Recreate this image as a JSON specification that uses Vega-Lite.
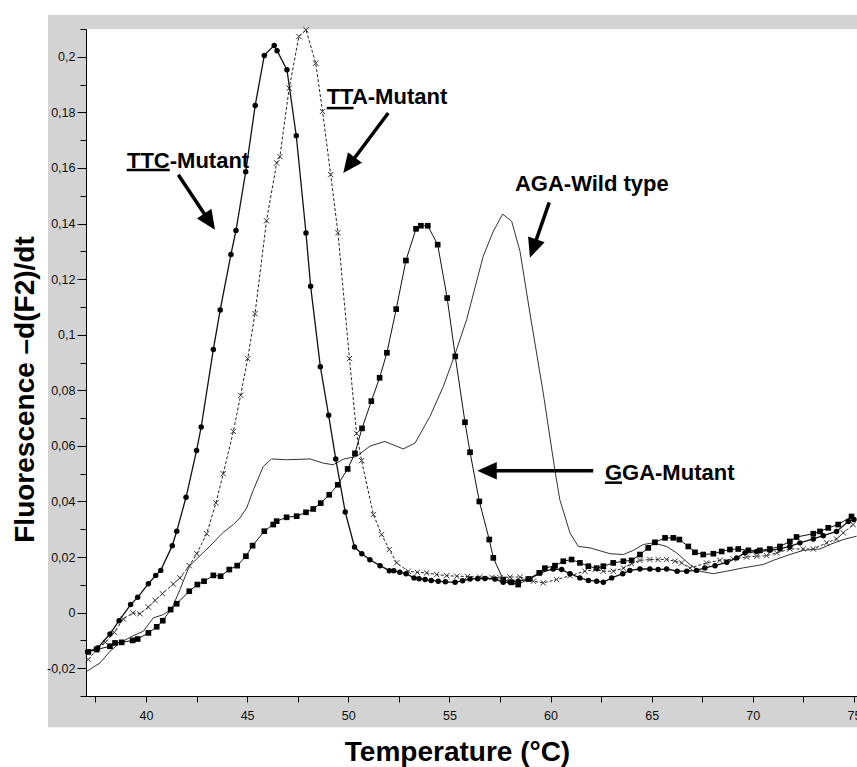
{
  "$schema": "https://vega.github.io/schema/vega-lite/v6.json",
  "width": 771,
  "height": 667,
  "autosize": {"type": "none"},
  "padding": {"left": 86, "top": 29, "right": 0, "bottom": 71},
  "background": "white",
  "config": {
    "view": {"stroke": null},
    "locale": {"number": {"decimal": ",", "thousands": ".", "grouping": [3], "currency": ["", " €"], "minus": "-"}}
  },
  "datasets": {
    "ttc": [
      {"t": 37.12, "v": -0.0141}, {"t": 37.61, "v": -0.0127}, {"t": 38.22, "v": -0.0077}, {"t": 38.67, "v": -0.0029},
      {"t": 39.24, "v": 0.0029}, {"t": 39.59, "v": 0.0055}, {"t": 40.12, "v": 0.0104}, {"t": 40.48, "v": 0.0134},
      {"t": 40.73, "v": 0.0152}, {"t": 41.30, "v": 0.0241}, {"t": 41.52, "v": 0.0293}, {"t": 41.98, "v": 0.0415},
      {"t": 42.50, "v": 0.0583}, {"t": 42.73, "v": 0.0668}, {"t": 43.33, "v": 0.0947}, {"t": 43.67, "v": 0.1089},
      {"t": 44.20, "v": 0.1289}, {"t": 44.45, "v": 0.1375}, {"t": 44.93, "v": 0.1586}, {"t": 45.40, "v": 0.1825},
      {"t": 45.85, "v": 0.2005}, {"t": 46.34, "v": 0.2041}, {"t": 46.48, "v": 0.2022}, {"t": 46.97, "v": 0.1953},
      {"t": 47.43, "v": 0.1716}, {"t": 47.91, "v": 0.1366}, {"t": 48.14, "v": 0.1174}, {"t": 48.62, "v": 0.0885},
      {"t": 49.03, "v": 0.0710}, {"t": 49.38, "v": 0.0553}, {"t": 49.85, "v": 0.0362}, {"t": 50.31, "v": 0.0236},
      {"t": 50.67, "v": 0.0212}, {"t": 51.07, "v": 0.0190}, {"t": 51.57, "v": 0.0169}, {"t": 52.03, "v": 0.0151},
      {"t": 52.25, "v": 0.0151}, {"t": 52.55, "v": 0.0145}, {"t": 52.86, "v": 0.0140}, {"t": 53.25, "v": 0.0125},
      {"t": 53.50, "v": 0.0122}, {"t": 53.80, "v": 0.0119}, {"t": 54.10, "v": 0.0116}, {"t": 54.45, "v": 0.0113},
      {"t": 54.80, "v": 0.0111}, {"t": 55.28, "v": 0.0109}, {"t": 55.65, "v": 0.0115}, {"t": 56.02, "v": 0.0121},
      {"t": 56.40, "v": 0.0122}, {"t": 56.76, "v": 0.0123}, {"t": 57.25, "v": 0.0121}, {"t": 57.66, "v": 0.0109},
      {"t": 58.00, "v": 0.0110}, {"t": 58.40, "v": 0.0113}, {"t": 58.98, "v": 0.0121}, {"t": 59.48, "v": 0.0143},
      {"t": 60.13, "v": 0.0157}, {"t": 60.55, "v": 0.0155}, {"t": 60.96, "v": 0.0140}, {"t": 61.45, "v": 0.0125},
      {"t": 61.87, "v": 0.0116}, {"t": 62.28, "v": 0.0113}, {"t": 62.61, "v": 0.0109}, {"t": 63.02, "v": 0.0125},
      {"t": 63.57, "v": 0.0140}, {"t": 63.92, "v": 0.0152}, {"t": 64.42, "v": 0.0157}, {"t": 64.91, "v": 0.0157},
      {"t": 65.32, "v": 0.0155}, {"t": 65.74, "v": 0.0157}, {"t": 66.26, "v": 0.0149}, {"t": 66.73, "v": 0.0149},
      {"t": 67.22, "v": 0.0152}, {"t": 67.63, "v": 0.0161}, {"t": 68.13, "v": 0.0169}, {"t": 68.71, "v": 0.0181},
      {"t": 69.20, "v": 0.0197}, {"t": 69.61, "v": 0.0215}, {"t": 70.19, "v": 0.0220}, {"t": 70.84, "v": 0.0224},
      {"t": 71.34, "v": 0.0229}, {"t": 71.83, "v": 0.0238}, {"t": 72.33, "v": 0.0251}, {"t": 72.99, "v": 0.0265},
      {"t": 73.48, "v": 0.0277}, {"t": 74.14, "v": 0.0292}, {"t": 74.72, "v": 0.0328}, {"t": 75.00, "v": 0.0335}
    ],
    "tta": [
      {"t": 37.15, "v": -0.0169}, {"t": 37.60, "v": -0.0130}, {"t": 37.99, "v": -0.0107}, {"t": 38.43, "v": -0.0071},
      {"t": 38.88, "v": -0.0023}, {"t": 39.35, "v": -0.0001}, {"t": 39.70, "v": -0.0004}, {"t": 40.12, "v": 0.0020},
      {"t": 40.45, "v": 0.0044}, {"t": 40.81, "v": 0.0068}, {"t": 41.35, "v": 0.0103}, {"t": 41.68, "v": 0.0125},
      {"t": 42.14, "v": 0.0169}, {"t": 42.51, "v": 0.0212}, {"t": 43.00, "v": 0.0284}, {"t": 43.46, "v": 0.0395},
      {"t": 43.82, "v": 0.0500}, {"t": 44.32, "v": 0.0652}, {"t": 44.68, "v": 0.0782}, {"t": 45.03, "v": 0.0914},
      {"t": 45.39, "v": 0.1076}, {"t": 45.96, "v": 0.1410}, {"t": 46.46, "v": 0.1618}, {"t": 46.62, "v": 0.1641},
      {"t": 47.08, "v": 0.1887}, {"t": 47.56, "v": 0.2073}, {"t": 47.91, "v": 0.2097}, {"t": 48.39, "v": 0.1977},
      {"t": 48.73, "v": 0.1803}, {"t": 49.13, "v": 0.1576}, {"t": 49.49, "v": 0.1367}, {"t": 50.06, "v": 0.0914},
      {"t": 50.41, "v": 0.0645}, {"t": 50.66, "v": 0.0547}, {"t": 51.24, "v": 0.0353}, {"t": 51.65, "v": 0.0281},
      {"t": 52.03, "v": 0.0227}, {"t": 52.39, "v": 0.0179}, {"t": 52.97, "v": 0.0149}, {"t": 53.41, "v": 0.0145},
      {"t": 53.87, "v": 0.0143}, {"t": 54.37, "v": 0.0137}, {"t": 54.86, "v": 0.0133}, {"t": 55.36, "v": 0.0131},
      {"t": 55.90, "v": 0.0130}, {"t": 56.50, "v": 0.0128}, {"t": 57.10, "v": 0.0127}, {"t": 57.50, "v": 0.0126},
      {"t": 58.00, "v": 0.0128}, {"t": 58.50, "v": 0.0128}, {"t": 59.15, "v": 0.0113}, {"t": 59.64, "v": 0.0107},
      {"t": 60.30, "v": 0.0119}, {"t": 60.96, "v": 0.0133}, {"t": 61.70, "v": 0.0149}, {"t": 62.20, "v": 0.0155},
      {"t": 62.60, "v": 0.0149}, {"t": 63.10, "v": 0.0149}, {"t": 63.60, "v": 0.0160}, {"t": 64.00, "v": 0.0176},
      {"t": 64.42, "v": 0.0188}, {"t": 64.91, "v": 0.0191}, {"t": 65.32, "v": 0.0191}, {"t": 65.74, "v": 0.0191},
      {"t": 66.15, "v": 0.0185}, {"t": 66.48, "v": 0.0179}, {"t": 66.89, "v": 0.0160}, {"t": 67.71, "v": 0.0179},
      {"t": 68.37, "v": 0.0188}, {"t": 69.03, "v": 0.0193}, {"t": 69.69, "v": 0.0200}, {"t": 70.19, "v": 0.0203},
      {"t": 70.68, "v": 0.0205}, {"t": 71.18, "v": 0.0215}, {"t": 71.83, "v": 0.0229}, {"t": 72.49, "v": 0.0229},
      {"t": 72.99, "v": 0.0229}, {"t": 73.65, "v": 0.0251}, {"t": 74.14, "v": 0.0265}, {"t": 74.47, "v": 0.0287},
      {"t": 74.96, "v": 0.0317}
    ],
    "gga": [
      {"t": 37.15, "v": -0.0141}, {"t": 37.56, "v": -0.0133}, {"t": 38.22, "v": -0.0121}, {"t": 38.47, "v": -0.0109},
      {"t": 38.80, "v": -0.0107}, {"t": 39.34, "v": -0.0100}, {"t": 39.59, "v": -0.0095}, {"t": 40.12, "v": -0.0073},
      {"t": 40.53, "v": -0.0051}, {"t": 40.83, "v": -0.0029}, {"t": 41.22, "v": 0.0011}, {"t": 41.52, "v": 0.0032},
      {"t": 42.14, "v": 0.0077}, {"t": 42.54, "v": 0.0101}, {"t": 42.87, "v": 0.0113}, {"t": 43.33, "v": 0.0134},
      {"t": 43.69, "v": 0.0131}, {"t": 44.12, "v": 0.0155}, {"t": 44.51, "v": 0.0169}, {"t": 44.94, "v": 0.0203},
      {"t": 45.27, "v": 0.0241}, {"t": 45.85, "v": 0.0293}, {"t": 46.29, "v": 0.0317}, {"t": 46.46, "v": 0.0329},
      {"t": 46.95, "v": 0.0343}, {"t": 47.45, "v": 0.0347}, {"t": 47.91, "v": 0.0361}, {"t": 48.27, "v": 0.0373},
      {"t": 48.64, "v": 0.0394}, {"t": 49.06, "v": 0.0424}, {"t": 49.48, "v": 0.0460}, {"t": 49.97, "v": 0.0517},
      {"t": 50.33, "v": 0.0573}, {"t": 50.68, "v": 0.0663}, {"t": 51.14, "v": 0.0761}, {"t": 51.55, "v": 0.0845},
      {"t": 51.91, "v": 0.0935}, {"t": 52.37, "v": 0.1092}, {"t": 52.85, "v": 0.1267}, {"t": 53.35, "v": 0.1381},
      {"t": 53.59, "v": 0.1392}, {"t": 53.93, "v": 0.1392}, {"t": 54.42, "v": 0.1324}, {"t": 54.89, "v": 0.1132},
      {"t": 55.29, "v": 0.0922}, {"t": 55.77, "v": 0.0685}, {"t": 56.02, "v": 0.0577}, {"t": 56.48, "v": 0.0400},
      {"t": 56.97, "v": 0.0263}, {"t": 57.17, "v": 0.0197}, {"t": 57.66, "v": 0.0119}, {"t": 58.08, "v": 0.0109},
      {"t": 58.40, "v": 0.0101}, {"t": 58.90, "v": 0.0121}, {"t": 59.44, "v": 0.0143}, {"t": 59.72, "v": 0.0160},
      {"t": 60.22, "v": 0.0169}, {"t": 60.63, "v": 0.0185}, {"t": 61.04, "v": 0.0191}, {"t": 61.45, "v": 0.0179},
      {"t": 61.87, "v": 0.0167}, {"t": 62.28, "v": 0.0160}, {"t": 62.61, "v": 0.0167}, {"t": 63.10, "v": 0.0179},
      {"t": 63.60, "v": 0.0185}, {"t": 64.01, "v": 0.0188}, {"t": 64.42, "v": 0.0209}, {"t": 64.83, "v": 0.0233},
      {"t": 65.16, "v": 0.0253}, {"t": 65.66, "v": 0.0269}, {"t": 66.07, "v": 0.0269}, {"t": 66.37, "v": 0.0263},
      {"t": 66.81, "v": 0.0238}, {"t": 67.14, "v": 0.0217}, {"t": 67.55, "v": 0.0209}, {"t": 68.05, "v": 0.0212},
      {"t": 68.46, "v": 0.0220}, {"t": 68.87, "v": 0.0227}, {"t": 69.28, "v": 0.0229}, {"t": 69.78, "v": 0.0224},
      {"t": 70.35, "v": 0.0224}, {"t": 70.84, "v": 0.0229}, {"t": 71.34, "v": 0.0238}, {"t": 71.83, "v": 0.0256},
      {"t": 72.16, "v": 0.0272}, {"t": 72.99, "v": 0.0284}, {"t": 73.32, "v": 0.0292}, {"t": 73.73, "v": 0.0305},
      {"t": 74.22, "v": 0.0317}, {"t": 74.88, "v": 0.0346}
    ],
    "aga": [
      {"t": 37.08, "v": -0.0211}, {"t": 37.73, "v": -0.0181}, {"t": 38.22, "v": -0.0139}, {"t": 38.71, "v": -0.0109},
      {"t": 39.37, "v": -0.0083}, {"t": 39.87, "v": -0.0067}, {"t": 40.36, "v": -0.0019}, {"t": 40.86, "v": -0.0007},
      {"t": 41.27, "v": 0.0013}, {"t": 41.68, "v": 0.0083}, {"t": 42.14, "v": 0.0167}, {"t": 42.67, "v": 0.0205},
      {"t": 43.16, "v": 0.0239}, {"t": 43.79, "v": 0.0287}, {"t": 44.32, "v": 0.0317}, {"t": 44.65, "v": 0.0341},
      {"t": 44.98, "v": 0.0377}, {"t": 45.31, "v": 0.0442}, {"t": 45.80, "v": 0.0526}, {"t": 46.21, "v": 0.0553},
      {"t": 46.95, "v": 0.0550}, {"t": 48.11, "v": 0.0553}, {"t": 48.76, "v": 0.0538}, {"t": 49.26, "v": 0.0532},
      {"t": 49.75, "v": 0.0552}, {"t": 50.41, "v": 0.0562}, {"t": 51.07, "v": 0.0599}, {"t": 51.81, "v": 0.0616},
      {"t": 52.72, "v": 0.0589}, {"t": 53.30, "v": 0.0610}, {"t": 54.04, "v": 0.0706}, {"t": 54.70, "v": 0.0814},
      {"t": 55.27, "v": 0.0928}, {"t": 55.85, "v": 0.1054}, {"t": 56.67, "v": 0.1282}, {"t": 57.17, "v": 0.1372},
      {"t": 57.63, "v": 0.1434}, {"t": 58.08, "v": 0.1408}, {"t": 58.49, "v": 0.1300}, {"t": 58.98, "v": 0.1078},
      {"t": 59.64, "v": 0.0790}, {"t": 60.22, "v": 0.0510}, {"t": 60.46, "v": 0.0406}, {"t": 60.96, "v": 0.0287},
      {"t": 61.37, "v": 0.0238}, {"t": 61.95, "v": 0.0233}, {"t": 62.94, "v": 0.0212}, {"t": 63.60, "v": 0.0209},
      {"t": 64.09, "v": 0.0224}, {"t": 64.58, "v": 0.0245}, {"t": 65.08, "v": 0.0251}, {"t": 65.74, "v": 0.0238},
      {"t": 66.23, "v": 0.0215}, {"t": 66.89, "v": 0.0173}, {"t": 67.38, "v": 0.0149}, {"t": 68.04, "v": 0.0140},
      {"t": 68.70, "v": 0.0149}, {"t": 69.52, "v": 0.0161}, {"t": 70.51, "v": 0.0173}, {"t": 71.01, "v": 0.0188},
      {"t": 71.83, "v": 0.0209}, {"t": 72.49, "v": 0.0224}, {"t": 73.32, "v": 0.0229}, {"t": 73.81, "v": 0.0245},
      {"t": 74.47, "v": 0.0263}, {"t": 75.13, "v": 0.0275}
    ]
  },
  "resolve": {"axis": {"y": "independent"}},
  "layer": [
    {
      "data": {"values": [{}]},
      "mark": {"type": "rect", "color": "#d3d3d3"},
      "encoding": {
        "x": {
          "datum": 35.157, "type": "quantitative",
          "scale": {"domain": [37.035, 75.15], "nice": false, "zero": false},
          "axis": {
            "title": "Temperature (°C)",
            "values": [37.5, 40, 42.5, 45, 47.5, 50, 52.5, 55, 57.5, 60, 62.5, 65, 67.5, 70, 72.5, 75],
            "labelExpr": "datum.value % 5 == 0 ? toString(datum.value) : ''",
            "grid": false, "zindex": 2,
            "domainColor": "#000", "domainWidth": 1,
            "tickColor": "#000", "tickSize": 6, "tickWidth": 1,
            "labelFont": "Liberation Sans", "labelFontSize": 12.5, "labelColor": "#111",
            "labelPadding": 7, "labelFlush": false, "labelOverlap": false,
            "titleFont": "Liberation Sans", "titleFontSize": 28, "titleFontWeight": "bold", "titleColor": "#000",
            "titleX": 371, "titleY": 64, "titleBaseline": "alphabetic", "titleAlign": "center"
          }
        },
        "x2": {"datum": 75.3},
        "y": {
          "datum": 0.215, "type": "quantitative",
          "scale": {"domain": [-0.03, 0.21], "nice": false, "zero": false},
          "axis": {
            "orient": "left",
            "title": "Fluorescence –d(F2)/dt",
            "values": [-0.02, 0, 0.02, 0.04, 0.06, 0.08, 0.1, 0.12, 0.14, 0.16, 0.18, 0.2],
            "format": ".2~f",
            "grid": false, "zindex": 2,
            "domainColor": "#000", "domainWidth": 1,
            "tickColor": "#000", "tickWidth": 1, "tickSize": 9,
            "labelFont": "Liberation Sans", "labelFontSize": 12.5, "labelColor": "#111",
            "labelPadding": 2, "labelFlush": false, "labelOverlap": false,
            "titleFont": "Liberation Sans", "titleFontSize": 28, "titleFontWeight": "bold", "titleColor": "#000",
            "titleAngle": 270, "titleX": -53, "titleY": 360, "titleBaseline": "alphabetic", "titleAlign": "center"
          }
        },
        "y2": {"datum": -0.0412}
      }
    },
    {
      "layer": [
        {
          "data": {"values": [{}]},
          "mark": {"type": "rect", "color": "white"},
          "encoding": {
            "x": {"datum": 37.035, "type": "quantitative"},
            "x2": {"datum": 75.3},
            "y": {
              "datum": 0.21, "type": "quantitative",
              "axis": {
                "orient": "left", "title": null, "labels": false, "domain": false, "grid": false, "zindex": 2,
                "values": [-0.03, -0.01, 0.01, 0.03, 0.05, 0.07, 0.09, 0.11, 0.13, 0.15, 0.17, 0.19, 0.21],
                "tickColor": "#000", "tickWidth": 1, "tickSize": 6
              }
            },
            "y2": {"datum": -0.03}
          }
        },
        {
          "data": {"name": "aga"},
          "mark": {"type": "line", "color": "#333", "strokeWidth": 1},
          "encoding": {"x": {"field": "t", "type": "quantitative"}, "y": {"field": "v", "type": "quantitative"}}
        },
        {
          "data": {"name": "gga"},
          "mark": {"type": "line", "color": "#111", "strokeWidth": 1},
          "encoding": {"x": {"field": "t", "type": "quantitative"}, "y": {"field": "v", "type": "quantitative"}}
        },
        {
          "data": {"name": "gga"},
          "mark": {"type": "point", "shape": "square", "filled": true, "size": 32, "color": "#000", "opacity": 1},
          "encoding": {"x": {"field": "t", "type": "quantitative"}, "y": {"field": "v", "type": "quantitative"}}
        },
        {
          "data": {"name": "tta"},
          "mark": {"type": "line", "color": "#222", "strokeWidth": 1, "strokeDash": [3, 2]},
          "encoding": {"x": {"field": "t", "type": "quantitative"}, "y": {"field": "v", "type": "quantitative"}}
        },
        {
          "data": {"name": "tta"},
          "mark": {"type": "point", "shape": "M-1,-1L1,1M-1,1L1,-1", "filled": false, "size": 28, "color": "#333", "strokeWidth": 1, "opacity": 1},
          "encoding": {"x": {"field": "t", "type": "quantitative"}, "y": {"field": "v", "type": "quantitative"}}
        },
        {
          "data": {"name": "ttc"},
          "mark": {"type": "line", "color": "#111", "strokeWidth": 1.3},
          "encoding": {"x": {"field": "t", "type": "quantitative"}, "y": {"field": "v", "type": "quantitative"}}
        },
        {
          "data": {"name": "ttc"},
          "mark": {"type": "point", "shape": "circle", "filled": true, "size": 30, "color": "#000", "opacity": 1},
          "encoding": {"x": {"field": "t", "type": "quantitative"}, "y": {"field": "v", "type": "quantitative"}}
        },
        {
          "data": {"values": [{}]},
          "mark": {"type": "rule", "color": "#000", "strokeWidth": 3.5},
          "encoding": {"x": {"datum": 41.597, "type": "quantitative"}, "y": {"datum": 0.15755, "type": "quantitative"}, "x2": {"datum": 43.08}, "y2": {"datum": 0.14137}}
        },
        {
          "data": {"values": [{}]},
          "mark": {"type": "point", "shape": "M0,0L-2,-0.9L-2,0.9Z", "filled": true, "size": 380, "color": "#000", "opacity": 1, "angle": 56.3},
          "encoding": {"x": {"datum": 43.411, "type": "quantitative"}, "y": {"datum": 0.13777, "type": "quantitative"}}
        },
        {
          "data": {"values": [{}]},
          "mark": {"type": "rule", "color": "#000", "strokeWidth": 3.5},
          "encoding": {"x": {"datum": 51.977, "type": "quantitative"}, "y": {"datum": 0.17975, "type": "quantitative"}, "x2": {"datum": 50.05}, "y2": {"datum": 0.16104}}
        },
        {
          "data": {"values": [{}]},
          "mark": {"type": "point", "shape": "M0,0L-2,-0.9L-2,0.9Z", "filled": true, "size": 380, "color": "#000", "opacity": 1, "angle": 126.9},
          "encoding": {"x": {"datum": 49.753, "type": "quantitative"}, "y": {"datum": 0.15817, "type": "quantitative"}}
        },
        {
          "data": {"values": [{}]},
          "mark": {"type": "rule", "color": "#000", "strokeWidth": 3.5},
          "encoding": {"x": {"datum": 59.936, "type": "quantitative"}, "y": {"datum": 0.14759, "type": "quantitative"}, "x2": {"datum": 59.18}, "y2": {"datum": 0.13176}}
        },
        {
          "data": {"values": [{}]},
          "mark": {"type": "point", "shape": "M0,0L-2,-0.9L-2,0.9Z", "filled": true, "size": 380, "color": "#000", "opacity": 1, "angle": 109.2},
          "encoding": {"x": {"datum": 58.982, "type": "quantitative"}, "y": {"datum": 0.1277, "type": "quantitative"}}
        },
        {
          "data": {"values": [{}]},
          "mark": {"type": "rule", "color": "#000", "strokeWidth": 3.5},
          "encoding": {"x": {"datum": 62.111, "type": "quantitative"}, "y": {"datum": 0.05108, "type": "quantitative"}, "x2": {"datum": 56.856}, "y2": {"datum": 0.05108}}
        },
        {
          "data": {"values": [{}]},
          "mark": {"type": "point", "shape": "M0,0L-2,-0.9L-2,0.9Z", "filled": true, "size": 380, "color": "#000", "opacity": 1, "angle": 180},
          "encoding": {"x": {"datum": 56.377, "type": "quantitative"}, "y": {"datum": 0.05108, "type": "quantitative"}}
        },
        {
          "data": {"values": [{}]},
          "mark": {"type": "rule", "color": "#000", "strokeWidth": 2.5},
          "encoding": {"x": {"datum": 39.046, "type": "quantitative"}, "x2": {"datum": 41.176}, "y": {"datum": 0.1593, "type": "quantitative"}}
        },
        {
          "data": {"values": [{}]},
          "mark": {"type": "rule", "color": "#000", "strokeWidth": 2.5},
          "encoding": {"x": {"datum": 48.932, "type": "quantitative"}, "x2": {"datum": 50.262}, "y": {"datum": 0.18155, "type": "quantitative"}}
        },
        {
          "data": {"values": [{}]},
          "mark": {"type": "rule", "color": "#000", "strokeWidth": 2.5},
          "encoding": {"x": {"datum": 62.689, "type": "quantitative"}, "x2": {"datum": 63.535}, "y": {"datum": 0.04676, "type": "quantitative"}}
        },
        {
          "data": {"values": [{}]},
          "mark": {"type": "text", "font": "Liberation Sans", "fontSize": 22, "fontWeight": "bold", "color": "#000", "align": "left", "baseline": "alphabetic"},
          "encoding": {"x": {"datum": 39.061, "type": "quantitative"}, "y": {"datum": 0.16, "type": "quantitative"}, "text": {"value": "TTC-Mutant"}}
        },
        {
          "data": {"values": [{}]},
          "mark": {"type": "text", "font": "Liberation Sans", "fontSize": 22, "fontWeight": "bold", "color": "#000", "align": "left", "baseline": "alphabetic"},
          "encoding": {"x": {"datum": 48.932, "type": "quantitative"}, "y": {"datum": 0.1831, "type": "quantitative"}, "text": {"value": "TTA-Mutant"}}
        },
        {
          "data": {"values": [{}]},
          "mark": {"type": "text", "font": "Liberation Sans", "fontSize": 22, "fontWeight": "bold", "color": "#000", "align": "left", "baseline": "alphabetic"},
          "encoding": {"x": {"datum": 58.24, "type": "quantitative"}, "y": {"datum": 0.15155, "type": "quantitative"}, "text": {"value": "AGA-Wild type"}}
        },
        {
          "data": {"values": [{}]},
          "mark": {"type": "text", "font": "Liberation Sans", "fontSize": 22, "fontWeight": "bold", "color": "#000", "align": "left", "baseline": "alphabetic"},
          "encoding": {"x": {"datum": 62.689, "type": "quantitative"}, "y": {"datum": 0.04784, "type": "quantitative"}, "text": {"value": "GGA-Mutant"}}
        }
      ]
    }
  ]
}
